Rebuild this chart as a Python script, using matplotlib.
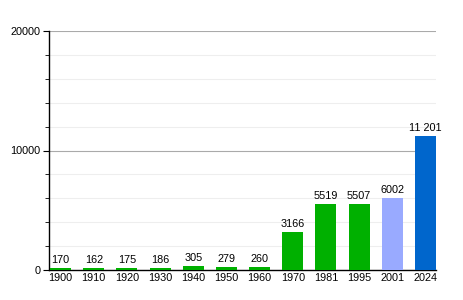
import matplotlib.pyplot as plt
from matplotlib.ticker import MultipleLocator

years = ['1900', '1910', '1920', '1930', '1940', '1950', '1960', '1970',
         '1981', '1995', '2001', '2024']
population = [170, 162, 175, 186, 305, 279, 260, 3166, 5519, 5507, 6002, 11201]
value_labels = ['170', '162', '175', '186', '305', '279', '260', '3166',
                '5519', '5507', '6002', '11 201']
bar_colors = ['#00b000'] * 10 + ['#99aaff', '#0066cc']

plt.rcParams['font.family'] = ['Liberation Sans', 'DejaVu Sans']

fig = plt.figure(figsize=(4.64, 3.0), dpi=100)
ax = fig.add_axes([49 / 464, 30 / 300, 387 / 464, 239 / 300])

x = list(range(len(years)))
ax.bar(x, population, width=0.63, color=bar_colors, zorder=3)

# value above each bar
for xi, v, lab in zip(x, population, value_labels):
    ax.text(xi, v + 250, lab, ha='center', va='bottom', fontsize=7.8, zorder=4)

ax.set_xlim(-0.35, len(years) - 1 + 0.32)
ax.set_ylim(0, 20000)
ax.set_xticks(x)
ax.set_xticklabels(years, fontsize=7.8)
ax.tick_params(axis='x', length=0, pad=2)

ax.yaxis.set_major_locator(MultipleLocator(10000))
ax.yaxis.set_minor_locator(MultipleLocator(2000))
ax.tick_params(axis='y', which='major', length=4, labelsize=7.8, pad=2)
ax.tick_params(axis='y', which='minor', length=3)
ax.grid(axis='y', which='major', color='#aaaaaa', linewidth=0.8, zorder=0)
ax.grid(axis='y', which='minor', color='#eeeeee', linewidth=0.8, zorder=0)

for s in ['top', 'right']:
    ax.spines[s].set_visible(False)
ax.spines['left'].set_linewidth(1)
ax.spines['bottom'].set_linewidth(1)

fig.savefig('out.png', dpi=100)
